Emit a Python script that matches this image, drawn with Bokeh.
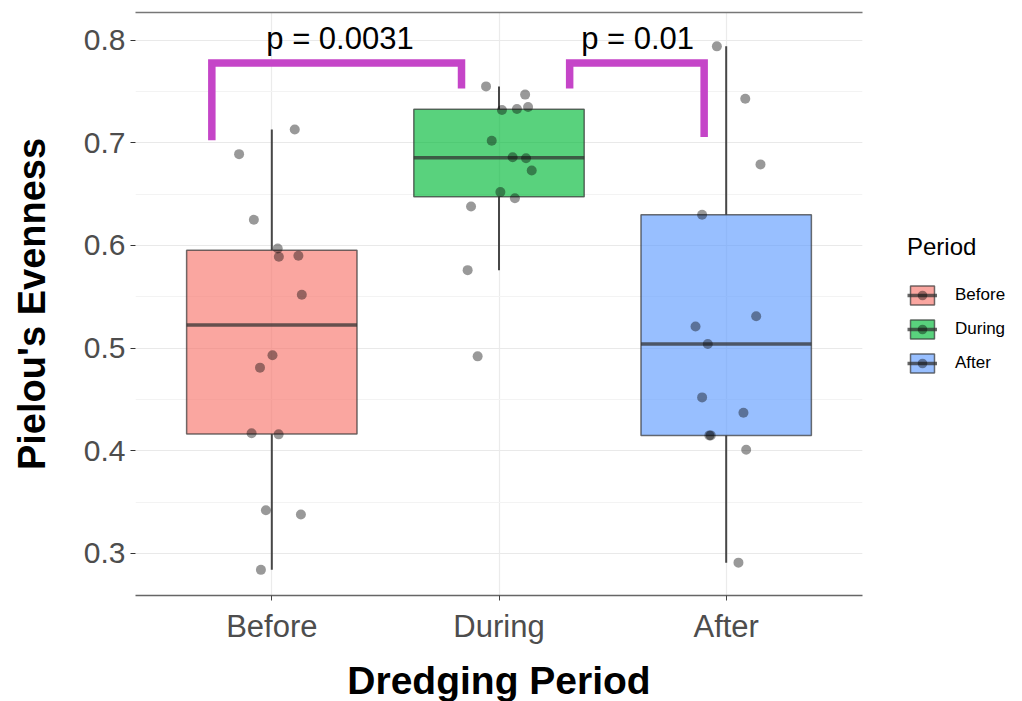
import numpy as np
from bokeh.plotting import figure
from bokeh.models import (Range1d, FixedTicker, SingleIntervalTicker, LinearAxis,
                          Legend, LegendItem)
from bokeh.core.properties import value
from bokeh.embed import file_html
from bokeh.resources import INLINE

# ---------------- data ----------------
categories = ["Before", "During", "After"]
colors = ["#F8766D", "#00BA38", "#619CFF"]

before_vals = [0.713, 0.689, 0.625, 0.597, 0.589, 0.590, 0.552, 0.493, 0.481,
               0.417, 0.416, 0.342, 0.338, 0.284]
before_jitter = [0.101, -0.144, -0.079, 0.026, 0.031, 0.117, 0.132, 0.003, -0.052,
                 -0.089, 0.030, -0.026, 0.128, -0.048]

during_vals = [0.755, 0.747, 0.735, 0.733, 0.732, 0.702, 0.686, 0.685, 0.673,
               0.652, 0.646, 0.638, 0.576, 0.492]
during_jitter = [-0.057, 0.115, 0.128, 0.079, 0.013, -0.032, 0.060, 0.119, 0.144,
                 0.006, 0.070, -0.123, -0.138, -0.094]

after_vals = [0.794, 0.743, 0.679, 0.630, 0.531, 0.521, 0.504, 0.452, 0.437,
              0.415, 0.415, 0.401, 0.291]
after_jitter = [-0.041, 0.084, 0.151, -0.106, 0.132, -0.135, -0.081, -0.106, 0.076,
                -0.074, -0.068, 0.088, 0.054]

p_labels = ["p = 0.0031", "p = 0.01"]
p_label_x = [1.30, 2.61]
p_label_y = [0.802, 0.802]

bracket_x0 = [0.736, 2.311]
bracket_x1 = [1.835, 2.903]
bracket_top = [0.7778, 0.7778]
bracket_left_end = [0.7025, 0.753]
bracket_right_end = [0.753, 0.7058]

groups = [before_vals, during_vals, after_vals]
jitters = [before_jitter, during_jitter, after_jitter]

FONT = "Liberation Sans"

# ---------------- figure ----------------
p = figure(frame_width=727, frame_height=583,
           x_range=Range1d(0.4, 3.6), y_range=Range1d(0.259, 0.827),
           output_backend="svg", toolbar_location=None,
           min_border_left=135, min_border_top=12, min_border_right=0,
           min_border_bottom=0)
p.outline_line_color = None
p.background_fill_color = "white"
p.border_fill_color = "white"

# axes
xax = p.xaxis[0]
xax.ticker = FixedTicker(ticks=[1, 2, 3])
xax.major_label_overrides = {i + 1: c for i, c in enumerate(categories)}
xax.axis_line_color = "#666666"
xax.axis_line_width = 1.5
xax.major_tick_line_color = "#444444"
xax.major_tick_out = 5
xax.major_tick_in = 0
xax.minor_tick_line_color = None
xax.major_label_text_font = FONT
xax.major_label_text_font_size = "31px"
xax.major_label_text_color = "#4D4D4D"
xax.major_label_standoff = 8
xax.axis_label = "Dredging Period"
xax.axis_label_text_font = FONT
xax.axis_label_text_font_style = "bold"
xax.axis_label_text_font_size = "39px"
xax.axis_label_text_color = "black"
xax.axis_label_standoff = 12

yax = p.yaxis[0]
yax.ticker = SingleIntervalTicker(interval=0.1, num_minor_ticks=2)
yax.axis_line_color = None
yax.major_tick_line_color = "#333333"
yax.major_tick_out = 5
yax.major_tick_in = 0
yax.minor_tick_line_color = None
yax.major_label_text_font = FONT
yax.major_label_text_font_size = "30px"
yax.major_label_text_color = "#4D4D4D"
yax.major_label_standoff = 5
yax.axis_label = "Pielou's Evenness"
yax.axis_label_text_font = FONT
yax.axis_label_text_font_style = "bold"
yax.axis_label_text_font_size = "38px"
yax.axis_label_text_color = "black"
yax.axis_label_standoff = 28

# grid
p.xgrid.ticker = FixedTicker(ticks=[1, 2, 3])
p.xgrid.grid_line_color = "#EBEBEB"
p.xgrid.grid_line_width = 1.2
p.ygrid.grid_line_color = "#E9E9E9"
p.ygrid.grid_line_width = 1.2
p.ygrid.minor_grid_line_color = "#F3F3F3"
p.ygrid.minor_grid_line_width = 1.0

# top border line
top_axis = LinearAxis(ticker=FixedTicker(ticks=[]), axis_line_color="#777777",
                      axis_line_width=1.5, major_tick_line_color=None,
                      minor_tick_line_color=None, major_label_text_font_size="0px",
                      major_label_standoff=0)
p.add_layout(top_axis, "above")

# ---------------- boxes ----------------
box_width = 0.75
legend_parts = []
for i, (cat, vals, col) in enumerate(zip(categories, groups, colors)):
    x = i + 1
    v = np.array(vals)
    q1, med, q3 = np.percentile(v, [25, 50, 75])
    iqr = q3 - q1
    hi = v[v <= q3 + 1.5 * iqr].max()
    lo = v[v >= q1 - 1.5 * iqr].min()
    p.segment(x0=[x, x], y0=[q3, q1], x1=[x, x], y1=[hi, lo],
              line_color="#474747", line_width=2)
    box = p.vbar(x=[x], width=box_width, bottom=[q1], top=[q3],
                 fill_color=col, fill_alpha=0.65,
                 line_color="#333333", line_alpha=0.7, line_width=1.5)
    med_r = p.segment(x0=[x - box_width / 2], y0=[med], x1=[x + box_width / 2], y1=[med],
                      line_color="#333333", line_alpha=0.75, line_width=3.5)
    legend_parts.append((cat, box, med_r))

items = []
for i, (vals, jit) in enumerate(zip(groups, jitters)):
    xs = [i + 1 + j for j in jit]
    pts = p.scatter(x=xs, y=vals, size=10, fill_color="black", fill_alpha=0.4,
                    line_color=None)
    cat, box, med_r = legend_parts[i]
    items.append(LegendItem(label=cat, renderers=[box, med_r, pts]))

# ---------------- significance brackets ----------------
b_xs = [[a, a, b, b] for a, b in zip(bracket_x0, bracket_x1)]
b_ys = [[l, t, t, r] for l, t, r in zip(bracket_left_end, bracket_top, bracket_right_end)]
p.multi_line(xs=b_xs, ys=b_ys, line_color="#C545C8", line_width=7.5,
             line_join="miter", line_cap="butt")
p.text(x=p_label_x, y=p_label_y, text=p_labels, text_font=value(FONT),
       text_font_size="31px", text_align="center", text_baseline="alphabetic",
       text_color="black")

# ---------------- legend ----------------
legend = Legend(items=items, location="center_left", title="Period",
                title_text_font=FONT, title_text_font_size="24px",
                title_text_font_style="normal", title_text_color="black",
                label_text_font=FONT, label_text_font_size="17px",
                label_text_color="black",
                glyph_width=30, glyph_height=24, spacing=10, label_standoff=18,
                margin=45, padding=6, title_standoff=22,
                border_line_color=None, background_fill_alpha=0)
p.add_layout(legend, "right")

open("out.html", "w").write(file_html(p, INLINE))
